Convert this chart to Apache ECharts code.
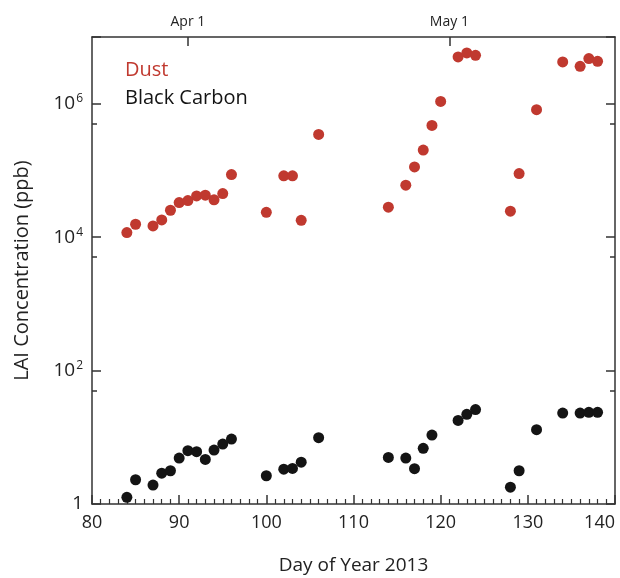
<!DOCTYPE html>
<html>
<head>
<meta charset="utf-8">
<script src="https://cdn.jsdelivr.net/npm/echarts@6/dist/echarts.min.js"></script>
<style>
html,body{margin:0;padding:0;background:#fff;}
#c{width:620px;height:578px;}
</style>
</head>
<body>
<div id="c"></div>
<script>
// Day of year 2013
const dustDays = [84,85,87,88,89,90,91,92,93,94,95,96,100,102,103,104,106,114,116,117,118,119,120,122,123,124,128,129,131,134,136,137,138];
const dustValues = [11700,15600,14700,18100,25300,33000,35300,41500,42600,36200,45000,86700,23600,83000,83000,17900,346000,28100,60100,113000,202000,472000,1083000,5030000,5780000,5320000,24500,89800,813000,4230000,3640000,4750000,4320000];
const bcDays = [84,85,87,88,89,90,91,92,93,94,95,96,100,102,103,104,106,114,116,117,118,119,122,123,124,128,129,131,134,136,137,138];
const bcValues = [1.26,2.31,1.92,2.90,3.15,4.88,6.30,6.08,4.66,6.43,7.91,9.40,2.65,3.33,3.41,4.24,9.87,4.99,4.88,3.38,6.82,10.8,17.9,22.1,26.0,1.79,3.15,13.0,23.1,23.1,23.7,23.7];
const topTickDays = [91,121];
const topTickLabels = ['Apr 1','May 1'];
const seriesNames = ['Dust','Black Carbon'];

const FONT = '"Open Sans", "Noto Sans", sans-serif';
const RED = '#c0392f';
const BLACK = '#141414';
const AX = '#333';

const chart = echarts.init(document.getElementById('c'));
const yLabelFmt = v => {
  const e = Math.round(Math.log10(v));
  if (e % 2 !== 0 || e > 6) return '';
  if (e === 0) return '1';
  return '10{sup|' + e + '}';
};
chart.setOption({
  animation: false,
  backgroundColor: '#fff',
  textStyle: {fontFamily: FONT},
  grid: {left: 92, right: 5, top: 37, bottom: 74, containLabel: false, outerBoundsMode: 'none'},
  legend: {
    orient: 'vertical', left: 115, top: 55, icon: 'none', itemWidth: 0, itemHeight: 20, itemGap: 8,
    selectedMode: false,
    data: [
      {name: seriesNames[0], textStyle: {color: RED}},
      {name: seriesNames[1], textStyle: {color: BLACK}}
    ],
    textStyle: {fontSize: 20, fontFamily: FONT}
  },
  xAxis: [{
    type: 'value', min: 80, max: 140, interval: 10, position: 'bottom',
    name: 'Day of Year 2013', nameLocation: 'middle', nameGap: 52,
    nameTextStyle: {fontSize: 19, color: '#222', fontFamily: FONT},
    axisLine: {show: true, onZero: false, lineStyle: {color: AX, width: 1.5}},
    axisTick: {show: true, inside: true, length: 9, lineStyle: {color: AX, width: 1.5}},
    minorTick: {show: true, splitNumber: 10, length: 5, lineStyle: {color: AX, width: 1.2}},
    axisLabel: {fontSize: 18, color: '#222', margin: 10, fontFamily: FONT, alignMaxLabel: 'right'},
    splitLine: {show: false}
  }, {
    type: 'value', min: 80, max: 140, position: 'top',
    axisLine: {show: true, onZero: false, lineStyle: {color: AX, width: 1.5}},
    axisTick: {show: true, inside: true, length: 9, customValues: topTickDays, lineStyle: {color: AX, width: 1.5}},
    axisLabel: {show: true, fontSize: 14, color: '#222', margin: 8, customValues: topTickDays,
      formatter: v => topTickLabels[topTickDays.indexOf(Math.round(v))] || '', fontFamily: FONT},
    splitLine: {show: false}
  }],
  yAxis: [{
    type: 'log', logBase: 10, min: 1, max: 1e7, interval: 2, position: 'left',
    name: 'LAI Concentration (ppb)', nameLocation: 'middle', nameGap: 60, nameRotate: 90,
    nameTextStyle: {fontSize: 20, color: '#222', fontFamily: FONT},
    axisLine: {show: true, onZero: false, lineStyle: {color: AX, width: 1.5}},
    axisTick: {show: true, inside: true, length: 9, lineStyle: {color: AX, width: 1.5}},
    minorTick: {show: true, splitNumber: 2, length: 5, lineStyle: {color: AX, width: 1.5}},
    axisLabel: {fontSize: 19, color: '#222', margin: 9, formatter: yLabelFmt, fontFamily: FONT,
      rich: {sup: {fontSize: 12, padding: [0, 0, 10, 1], color: '#222', fontFamily: FONT}}},
    splitLine: {show: false}
  }, {
    type: 'log', logBase: 10, min: 1, max: 1e7, interval: 2, position: 'right',
    axisLine: {show: true, onZero: false, lineStyle: {color: AX, width: 1.5}},
    axisTick: {show: true, inside: true, length: 9, lineStyle: {color: AX, width: 1.5}},
    minorTick: {show: true, splitNumber: 2, length: 5, lineStyle: {color: AX, width: 1.5}},
    axisLabel: {show: false},
    splitLine: {show: false}
  }],
  series: [{
    name: seriesNames[0], type: 'scatter', xAxisIndex: 0, yAxisIndex: 0,
    symbolSize: 11, itemStyle: {color: RED, opacity: 1},
    data: dustDays.map((d, i) => [d, dustValues[i]])
  }, {
    name: seriesNames[1], type: 'scatter', xAxisIndex: 0, yAxisIndex: 0,
    symbolSize: 11, itemStyle: {color: BLACK, opacity: 1},
    data: bcDays.map((d, i) => [d, bcValues[i]])
  }]
});
</script>
</body>
</html>
